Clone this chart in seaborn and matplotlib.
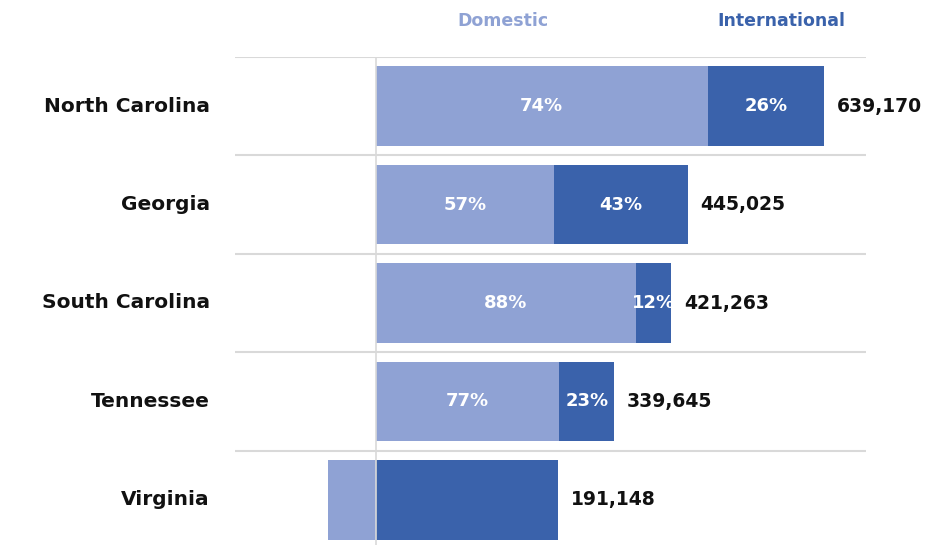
import matplotlib
matplotlib.use("Agg")
import matplotlib.pyplot as plt
import seaborn as sns
import pandas as pd
import numpy as np

states = ["North Carolina", "Georgia", "South Carolina", "Tennessee", "Virginia"]
domestic = [473000, 253664, 370711, 261527, -68500]
international = [166170, 191361, 50552, 78118, 259648]
totals = [639170, 445025, 421263, 339645, 191148]
show_pct = [True, True, True, True, False]

LIGHT = "#8FA2D4"
DARK = "#3A62AB"
GRID = "#D9D9D9"

sns.set_theme(style="white")
plt.rcParams["font.family"] = ["DejaVu Sans"]

df = pd.DataFrame({"state": states, "domestic": domestic, "international": international})
df["dark_end"] = df["domestic"].clip(lower=0) + df["international"]

fig = plt.figure(figsize=(9.29, 5.45), dpi=100)
ax = fig.add_axes([235 / 929, -4 / 545, (866 - 235) / 929, (549 - 57) / 545])

sns.barplot(data=df, y="state", x="dark_end", color=DARK, width=0.81,
            orient="h", ax=ax, saturation=1, linewidth=0)
sns.barplot(data=df, y="state", x="domestic", color=LIGHT, width=0.81,
            orient="h", ax=ax, saturation=1, linewidth=0)

ax.set_xlim(-201200, 699100)
ax.set_ylim(4.5, -0.5)
for s in ax.spines.values():
    s.set_visible(False)
ax.set_xlabel("")
ax.set_ylabel("")
ax.set_xticks([])
ax.set_yticks([])

for yb in np.arange(-0.5, 5.0, 1.0):
    ax.axhline(yb, color=GRID, lw=1.5, zorder=0)
ax.axvline(0, color=GRID, lw=1.2, zorder=3)

for i, st in enumerate(states):
    ax.annotate(st, xy=(0, i), xycoords=("axes fraction", "data"),
                xytext=(-18, 0), textcoords="offset points",
                ha="right", va="center", fontsize=14.5, fontweight="bold",
                color="#111111", annotation_clip=False)
    d = domestic[i]
    it = international[i]
    tot = d + it
    start = max(d, 0)
    if show_pct[i]:
        ax.text(d / 2, i, f"{round(100 * d / tot)}%", ha="center", va="center",
                color="white", fontsize=13, fontweight="bold", zorder=5)
        ax.text(start + it / 2, i, f"{round(100 * it / tot)}%", ha="center",
                va="center", color="white", fontsize=13, fontweight="bold", zorder=5)
    ax.annotate(f"{totals[i]:,}", xy=(start + it, i), xytext=(9, 0),
                textcoords="offset points", ha="left", va="center",
                fontsize=13.5, fontweight="bold", color="#111111",
                annotation_clip=False)

fig.text(503 / 929, 1 - 21 / 545, "Domestic", ha="center", va="center",
         fontsize=12.5, fontweight="bold", color=LIGHT)
fig.text(781 / 929, 1 - 21 / 545, "International", ha="center", va="center",
         fontsize=12.5, fontweight="bold", color=DARK)

fig.savefig("out.png", dpi=100)
